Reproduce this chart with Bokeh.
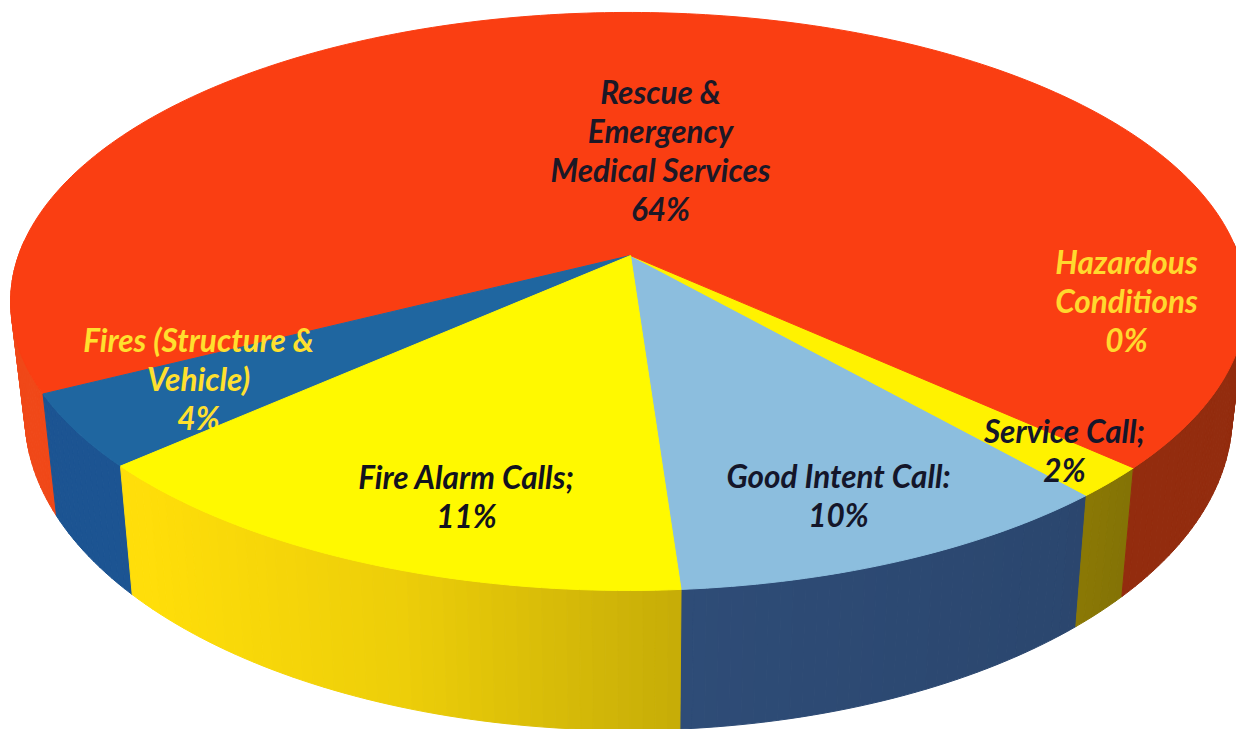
import numpy as np
from bokeh.plotting import figure
from bokeh.models import ColumnDataSource, Range1d
from bokeh.core.properties import value
from bokeh.embed import file_html
from bokeh.resources import INLINE

# --- data ---
categories = ["Good Intent Call", "Service Call", "Hazardous Conditions",
              "Rescue & Emergency Medical Services", "Fires (Structure & Vehicle)", "Fire Alarm Calls"]
printed_percent = [10, 2, 0, 64, 4, 11]            # as written in the labels
drawn_share = [10.35, 1.75, 0.0, 69.3, 4.1, 14.5]  # slice size as actually drawn
first_slice_start_deg = 4.0

top_colors = ["#8CBEDE", "#FFF200", "#FFF200", "#FA3E12", "#1F66A0", "#FFF900"]
side_colors = [(50, 82, 128), (255, 222, 10), (255, 222, 10), (240, 72, 24), (28, 84, 146), (255, 222, 10)]
side_shade = [0.3, 1.0, 1.0, 0.8, 0.2, 1.0]

label_lines = [["Good Intent Call:", "10%"], ["Service Call;", "2%"], ["Hazardous", "Conditions", "0%"],
               ["Rescue &", "Emergency", "Medical Services", "64%"], ["Fires (Structure &", "Vehicle)", "4%"],
               ["Fire Alarm Calls;", "11%"]]
label_x = [838, 1064, 1126, 660, 198, 466]
label_y = [475, 430, 261, 91, 339, 476]
label_color = ["#14162A", "#14162A", "#FFD92E", "#1C1826", "#FFE02E", "#12121E"]

# --- perspective of the tilted disc ---
CX, CY, A, B, K, M = 630.0, 255.0, 610.0, 281.7, 0.159, -0.0032
LINE = 39.3


def rim(theta_deg):
    t = np.radians(theta_deg)
    u, v = np.sin(t), np.cos(t)
    w = 1 - K * v - M * u
    return CX + A * u / w, CY + B * v / w


def drop(x, y):
    return CX + 0.977 * (x - CX), y + 122 + 0.09 * (y - 393)


def shade(x):
    return np.interp(x, [150, 400, 660, 1130], [1.0, 0.93, 0.79, 0.52])


edges = first_slice_start_deg + np.concatenate([[0], np.cumsum(drawn_share)]) * 3.6

p = figure(width=1236, height=729, output_backend="svg", toolbar_location=None,
           x_range=Range1d(0, 1236), y_range=Range1d(729, 0), min_border=0,
           background_fill_color="white", outline_line_color=None)
p.axis.visible = False
p.grid.visible = False

# side wall: small quads, back to front
qx, qy, qc = [], [], []
for i in range(len(drawn_share)):
    if drawn_share[i] == 0:
        continue
    n = max(2, int((edges[i + 1] - edges[i]) / 1.0))
    th = np.linspace(edges[i], edges[i + 1], n + 1)
    for a, b in zip(th[:-1], th[1:]):
        x0, y0 = rim(a)
        x1, y1 = rim(b)
        if max(y0, y1) < CY - 10:
            continue
        x2, y2 = drop(x1, y1)
        x3, y3 = drop(x0, y0)
        xm = (x0 + x1) / 2
        s = 1 - side_shade[i] * (1 - shade(xm))
        r, g, bl = side_colors[i]
        qx.append([x0, x1, x2, x3])
        qy.append([y0, y1, y2, y3])
        qc.append("#%02x%02x%02x" % (int(r * s), int(g * s), int(bl * s)))
p.patches("x", "y", source=ColumnDataSource(dict(x=qx, y=qy, c=qc)),
          fill_color="c", line_color="c", line_width=1)


def top_source(indices):
    xs, ys, cs = [], [], []
    for i in indices:
        n = max(2, int(edges[i + 1] - edges[i]))
        rx, ry = rim(np.linspace(edges[i], edges[i + 1], n + 1))
        xs.append([CX, *rx])
        ys.append([CY, *ry])
        cs.append(top_colors[i])
    return ColumnDataSource(dict(x=xs, y=ys, c=cs))


def put_label(i):
    lines = label_lines[i]
    ys = [label_y[i] + LINE * j for j in range(len(lines))]
    p.text([label_x[i]] * len(lines), ys, text=lines, text_font=value("Lato"), text_font_size="31.5px",
           text_font_style="bold italic", text_color=label_color[i], text_align="center", text_baseline="middle")


last = len(drawn_share) - 1
others = [i for i in range(last) if drawn_share[i] > 0]
p.patches("x", "y", source=top_source(others), fill_color="c", line_color="c", line_width=1)
put_label(4)   # this label runs under the last slice
p.patches("x", "y", source=top_source([last]), fill_color="c", line_color="c", line_width=1)
for i in range(last + 1):
    if i != 4:
        put_label(i)

open("out.html", "w").write(file_html(p, INLINE))
